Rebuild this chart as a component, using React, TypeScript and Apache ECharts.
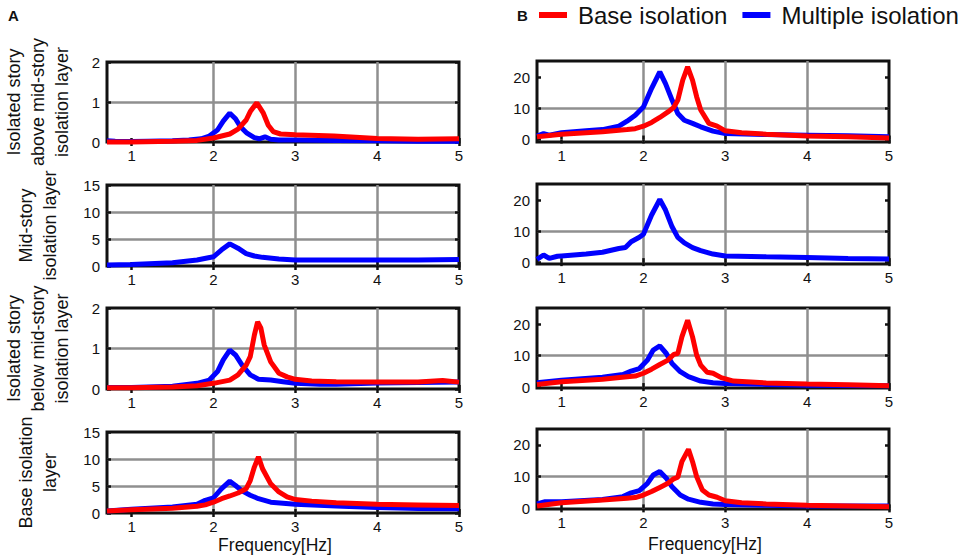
import React, { useEffect, useRef } from "react";
import * as echarts from "echarts";

const SERIES_NAMES = ["Base isolation", "Multiple isolation"];
const PANEL_LABELS = [
  "Isolated story\nabove mid-story\nisolation layer",
  "Mid-story\nisolation layer",
  "Isolated story\nbelow mid-story\nisolation layer",
  "Base isolation\nlayer",
];
const X_TICKS = [1, 2, 3, 4, 5];
const B_Y_TICKS = [0, 10, 20];
const X_NAME = "Frequency[Hz]";
const PANEL_LETTERS = ["A", "B"];

// ---- Panel A (left column) ----
const aAboveMultiple = [
  [0.7, 0.03], [0.8, 0.02], [1.0, 0.01], [1.2, 0.02], [1.5, 0.03], [1.7, 0.05], [1.85, 0.08],
  [1.95, 0.15], [2.05, 0.3], [2.12, 0.52], [2.2, 0.72], [2.27, 0.58], [2.33, 0.38], [2.41, 0.22],
  [2.5, 0.11], [2.56, 0.08], [2.63, 0.13], [2.7, 0.07], [2.8, 0.05], [3.0, 0.05], [3.5, 0.04],
  [4.0, 0.03], [4.5, 0.02], [5.0, 0.02],
];
const aAboveBase = [
  [0.7, 0.0], [1.0, 0.0], [1.5, 0.02], [1.8, 0.04], [2.0, 0.1], [2.2, 0.2], [2.3, 0.32],
  [2.4, 0.55], [2.45, 0.76], [2.53, 0.98], [2.61, 0.72], [2.67, 0.42], [2.73, 0.26], [2.82, 0.2],
  [3.0, 0.18], [3.47, 0.15], [4.0, 0.09], [4.5, 0.07], [5.0, 0.08],
];
const aMidMultiple = [
  [0.7, 0.2], [1.0, 0.3], [1.5, 0.6], [1.8, 1.1], [2.0, 1.7], [2.1, 3.0], [2.2, 4.1], [2.3, 3.3],
  [2.4, 2.3], [2.5, 1.85], [2.6, 1.6], [2.8, 1.3], [3.0, 1.1], [3.5, 1.1], [4.0, 1.1], [4.5, 1.1],
  [5.0, 1.2],
];
const aBelowMultiple = [
  [0.7, 0.04], [1.0, 0.04], [1.5, 0.07], [1.8, 0.14], [1.95, 0.22], [2.05, 0.43], [2.12, 0.72],
  [2.2, 0.96], [2.27, 0.84], [2.35, 0.59], [2.45, 0.35], [2.55, 0.24], [2.7, 0.22], [2.85, 0.18],
  [3.0, 0.14], [3.3, 0.12], [3.5, 0.12], [4.0, 0.15], [4.5, 0.16], [5.0, 0.17],
];
const aBelowBase = [
  [0.7, 0.03], [1.0, 0.03], [1.5, 0.05], [1.8, 0.08], [2.0, 0.14], [2.2, 0.22], [2.3, 0.35],
  [2.4, 0.59], [2.45, 0.8], [2.5, 1.33], [2.54, 1.66], [2.58, 1.5], [2.62, 1.09], [2.7, 0.67],
  [2.8, 0.39], [2.9, 0.3], [3.0, 0.24], [3.2, 0.2], [3.5, 0.18], [4.0, 0.17], [4.5, 0.17],
  [4.8, 0.21], [5.0, 0.17],
];
const aBaseMultiple = [
  [0.7, 0.37], [1.0, 0.7], [1.5, 1.1], [1.8, 1.6], [1.9, 2.35], [2.0, 2.8], [2.1, 4.5], [2.2, 5.9],
  [2.27, 5.1], [2.35, 4.1], [2.45, 3.3], [2.55, 2.65], [2.7, 2.0], [3.0, 1.6], [3.5, 1.3],
  [4.0, 1.0], [4.5, 0.85], [5.0, 0.8],
];
const aBaseBase = [
  [0.7, 0.35], [1.0, 0.6], [1.5, 0.9], [1.8, 1.24], [1.9, 1.5], [2.0, 2.0], [2.1, 2.65], [2.2, 3.15],
  [2.3, 3.7], [2.4, 4.5], [2.45, 6.0], [2.5, 8.5], [2.55, 10.4], [2.6, 8.2], [2.7, 5.4], [2.8, 3.9],
  [2.9, 3.0], [3.0, 2.5], [3.2, 2.2], [3.5, 1.9], [4.0, 1.6], [4.5, 1.5], [5.0, 1.4],
];

// ---- Panel B (right column) ----
const bAboveMultiple = [
  [0.7, 1.1], [0.78, 1.9], [0.85, 1.4], [1.0, 2.2], [1.3, 2.8], [1.5, 3.2], [1.7, 4.3], [1.8, 5.9],
  [1.9, 7.8], [2.0, 10.5], [2.1, 16.5], [2.2, 21.8], [2.27, 18], [2.35, 12.7], [2.42, 8.4],
  [2.5, 6.2], [2.6, 5.2], [2.7, 4.1], [2.85, 2.7], [3.0, 1.9], [3.5, 1.6], [4.0, 1.4], [4.5, 1.2],
  [5.0, 0.9],
];
const bAboveBase = [
  [0.7, 0.9], [1.0, 1.7], [1.5, 2.5], [1.8, 3.2], [1.9, 3.5], [2.0, 4.3], [2.1, 5.5], [2.2, 7.1],
  [2.3, 8.9], [2.37, 10.3], [2.42, 12.7], [2.48, 19.1], [2.54, 23.4], [2.6, 19.1], [2.65, 13.8],
  [2.7, 9.5], [2.8, 5.2], [2.9, 4.3], [3.0, 2.8], [3.2, 2.2], [3.5, 1.7], [4.0, 1.1], [4.5, 0.9],
  [5.0, 0.5],
];
const bMidMultiple = [
  [0.7, 0.9], [0.78, 2.3], [0.85, 1.2], [0.95, 1.9], [1.0, 2.0], [1.3, 2.6], [1.5, 3.2], [1.7, 4.4],
  [1.78, 4.7], [1.85, 6.6], [1.95, 8.0], [2.0, 9.0], [2.1, 15.2], [2.2, 20.2], [2.27, 16.8],
  [2.35, 11.4], [2.42, 8.0], [2.5, 6.2], [2.6, 4.7], [2.7, 3.7], [2.85, 2.6], [3.0, 2.0],
  [3.5, 1.7], [4.0, 1.5], [4.5, 1.2], [5.0, 1.0],
];
const bBelowMultiple = [
  [0.7, 1.4], [1.0, 2.2], [1.5, 3.1], [1.75, 4.0], [1.85, 5.1], [1.95, 5.9], [2.05, 8.6],
  [2.12, 11.8], [2.2, 13.1], [2.28, 10.7], [2.35, 7.5], [2.45, 4.9], [2.55, 3.3], [2.7, 1.9],
  [2.85, 1.4], [3.0, 1.1], [3.5, 0.85], [4.0, 0.6], [5.0, 0.4],
];
const bBelowBase = [
  [0.7, 0.85], [1.0, 1.7], [1.5, 2.5], [1.8, 3.3], [1.9, 3.5], [2.0, 4.4], [2.1, 5.7], [2.2, 7.2],
  [2.3, 8.6], [2.37, 10.4], [2.42, 10.7], [2.47, 16], [2.54, 21.3], [2.6, 16], [2.65, 10.2],
  [2.7, 7.0], [2.78, 4.7], [2.85, 4.4], [2.95, 3.0], [3.1, 1.9], [3.5, 1.3], [4.0, 1.0],
  [4.5, 0.75], [5.0, 0.4],
];
const bBaseMultiple = [
  [0.7, 1.4], [0.8, 2.1], [1.0, 2.1], [1.5, 2.8], [1.75, 3.7], [1.85, 4.9], [1.95, 5.6],
  [2.05, 7.9], [2.12, 10.5], [2.2, 11.6], [2.28, 9.5], [2.35, 6.8], [2.45, 4.2], [2.55, 2.9],
  [2.7, 1.9], [2.85, 1.4], [3.0, 1.2], [3.5, 0.95], [4.0, 0.75], [5.0, 0.75],
];
const bBaseBase = [
  [0.7, 0.75], [1.0, 1.8], [1.5, 2.6], [1.8, 3.2], [1.9, 3.4], [2.0, 4.2], [2.1, 5.3], [2.2, 6.6],
  [2.3, 7.9], [2.37, 9.3], [2.42, 9.8], [2.47, 14.7], [2.55, 18.6], [2.6, 14.7], [2.65, 10],
  [2.72, 5.8], [2.8, 4.2], [2.9, 3.5], [3.0, 2.4], [3.2, 1.8], [3.5, 1.4], [4.0, 0.95],
  [4.5, 0.75], [5.0, 0.5],
];

const A_Y_MIN = [0, 0, 0, 0];
const A_Y_MAX = [2, 15, 2, 15];
const A_Y_TICKS = [[0, 1, 2], [0, 5, 10, 15], [0, 1, 2], [0, 5, 10, 15]];
const B_Y_MIN = [-0.8, -0.6, -0.3, -0.2];
const B_Y_MAX = [25.3, 25.2, 25.2, 25];

const FONT = '"Liberation Sans", Arial, sans-serif';
const TEXT = "#111111";
const RED = "#ff0000";
const BLUE = "#0000ff";

export default function App() {
  const ref = useRef<HTMLDivElement>(null);

  useEffect(() => {
    document.body.style.margin = "0";
    if (!ref.current) return;
    const chart = echarts.init(ref.current, null, { renderer: "svg" });

    const panels = [
      { grid: { left: 107, top: 62, width: 352, height: 80 }, yMin: A_Y_MIN[0], yMax: A_Y_MAX[0], yTicks: A_Y_TICKS[0], label: PANEL_LABELS[0], nameGap: 33, multiple: aAboveMultiple, base: aAboveBase, bottom: false, colB: false },
      { grid: { left: 107, top: 185, width: 352, height: 81 }, yMin: A_Y_MIN[1], yMax: A_Y_MAX[1], yTicks: A_Y_TICKS[1], label: PANEL_LABELS[1], nameGap: 45, multiple: aMidMultiple, base: null, bottom: false, colB: false },
      { grid: { left: 107, top: 308, width: 352, height: 81 }, yMin: A_Y_MIN[2], yMax: A_Y_MAX[2], yTicks: A_Y_TICKS[2], label: PANEL_LABELS[2], nameGap: 33, multiple: aBelowMultiple, base: aBelowBase, bottom: false, colB: false },
      { grid: { left: 107, top: 432, width: 352, height: 81 }, yMin: A_Y_MIN[3], yMax: A_Y_MAX[3], yTicks: A_Y_TICKS[3], label: PANEL_LABELS[3], nameGap: 45, multiple: aBaseMultiple, base: aBaseBase, bottom: true, colB: false },
      { grid: { left: 537, top: 61, width: 352, height: 81 }, yMin: B_Y_MIN[0], yMax: B_Y_MAX[0], yTicks: B_Y_TICKS, label: "", nameGap: 0, multiple: bAboveMultiple, base: bAboveBase, bottom: false, colB: true },
      { grid: { left: 537, top: 184, width: 352, height: 80 }, yMin: B_Y_MIN[1], yMax: B_Y_MAX[1], yTicks: B_Y_TICKS, label: "", nameGap: 0, multiple: bMidMultiple, base: null, bottom: false, colB: true },
      { grid: { left: 537, top: 308, width: 352, height: 80 }, yMin: B_Y_MIN[2], yMax: B_Y_MAX[2], yTicks: B_Y_TICKS, label: "", nameGap: 0, multiple: bBelowMultiple, base: bBelowBase, bottom: false, colB: true },
      { grid: { left: 537, top: 429, width: 352, height: 80 }, yMin: B_Y_MIN[3], yMax: B_Y_MAX[3], yTicks: B_Y_TICKS, label: "", nameGap: 0, multiple: bBaseMultiple, base: bBaseBase, bottom: true, colB: true },
    ];

    const tickStyle = { color: "#111", width: 2.5 };
    const splitStyle = { color: "#8f8f8f", width: 2.5 };

    const grid = panels.map((p) => ({
      ...p.grid,
      show: true,
      borderColor: "#111",
      borderWidth: 3,
      backgroundColor: "transparent",
      containLabel: false,
    }));

    const xAxis: any[] = panels.map((p, i) => ({
      type: "value",
      gridIndex: i,
      position: "bottom",
      min: 0.7,
      max: 5,
      axisLine: { show: false },
      axisTick: { show: true, inside: true, length: 4, lineStyle: tickStyle, customValues: X_TICKS },
      axisLabel: { customValues: X_TICKS, fontSize: 15, color: TEXT, margin: 6, fontFamily: FONT },
      splitLine: { show: true, showMinLine: false, showMaxLine: false, lineStyle: splitStyle },
      name: p.bottom ? X_NAME : "",
      nameLocation: "middle",
      nameGap: p.colB ? 26 : 23,
      nameTextStyle: { fontSize: 17.5, color: TEXT, fontFamily: FONT, padding: [0, 16, 0, 0] },
    }));
    // top-edge tick marks
    panels.forEach((p, i) => {
      xAxis.push({
        type: "value",
        gridIndex: i,
        position: "top",
        min: 0.7,
        max: 5,
        axisLine: { show: false },
        axisTick: { show: true, inside: true, length: 4, lineStyle: tickStyle, customValues: X_TICKS },
        axisLabel: { show: false },
        splitLine: { show: false },
      });
    });

    const yAxis: any[] = panels.map((p, i) => ({
      type: "value",
      gridIndex: i,
      position: "left",
      min: p.yMin,
      max: p.yMax,
      axisLine: { show: false },
      axisTick: { show: true, inside: true, length: 4, lineStyle: tickStyle, customValues: p.yTicks },
      axisLabel: { customValues: p.yTicks, fontSize: 15, color: TEXT, margin: 7, fontFamily: FONT },
      splitLine: { show: true, showMinLine: false, showMaxLine: false, lineStyle: splitStyle },
      name: p.label,
      nameLocation: "middle",
      nameRotate: 90,
      nameGap: p.nameGap,
      nameTextStyle: { fontSize: 18, lineHeight: 24, color: TEXT, fontFamily: FONT, align: "center" },
    }));
    // right-edge tick marks
    panels.forEach((p, i) => {
      yAxis.push({
        type: "value",
        gridIndex: i,
        position: "right",
        min: p.yMin,
        max: p.yMax,
        axisLine: { show: false },
        axisTick: { show: true, inside: true, length: 4, lineStyle: tickStyle, customValues: p.yTicks },
        axisLabel: { show: false },
        splitLine: { show: false },
      });
    });

    const series: any[] = [];
    panels.forEach((p, i) => {
      series.push({
        name: SERIES_NAMES[1],
        type: "line",
        xAxisIndex: i,
        yAxisIndex: i,
        data: p.multiple,
        showSymbol: false,
        symbol: "none",
        clip: false,
        lineStyle: { color: BLUE, width: 5 },
        itemStyle: { color: BLUE },
      });
      if (p.base) {
        series.push({
          name: SERIES_NAMES[0],
          type: "line",
          xAxisIndex: i,
          yAxisIndex: i,
          data: p.base,
          showSymbol: false,
          symbol: "none",
          clip: false,
          lineStyle: { color: RED, width: 5 },
          itemStyle: { color: RED },
        });
      }
    });

    chart.setOption({
      animation: false,
      backgroundColor: "#ffffff",
      textStyle: { fontFamily: FONT },
      legend: {
        left: 539,
        top: 3,
        padding: 0,
        icon: "rect",
        itemWidth: 28,
        itemHeight: 6,
        itemGap: 15,
        data: SERIES_NAMES,
        textStyle: { fontSize: 24, color: TEXT, fontFamily: FONT, padding: [0, 0, 0, 6] },
      },
      graphic: [
        { type: "text", left: 8, top: 8, style: { text: PANEL_LETTERS[0], font: 'bold 15px "Liberation Sans", Arial, sans-serif', fill: TEXT } },
        { type: "text", left: 517, top: 8, style: { text: PANEL_LETTERS[1], font: 'bold 15px "Liberation Sans", Arial, sans-serif', fill: TEXT } },
      ],
      grid,
      xAxis,
      yAxis,
      series,
    });

    return () => chart.dispose();
  }, []);

  return <div ref={ref} style={{ width: 965, height: 559 }} />;
}
